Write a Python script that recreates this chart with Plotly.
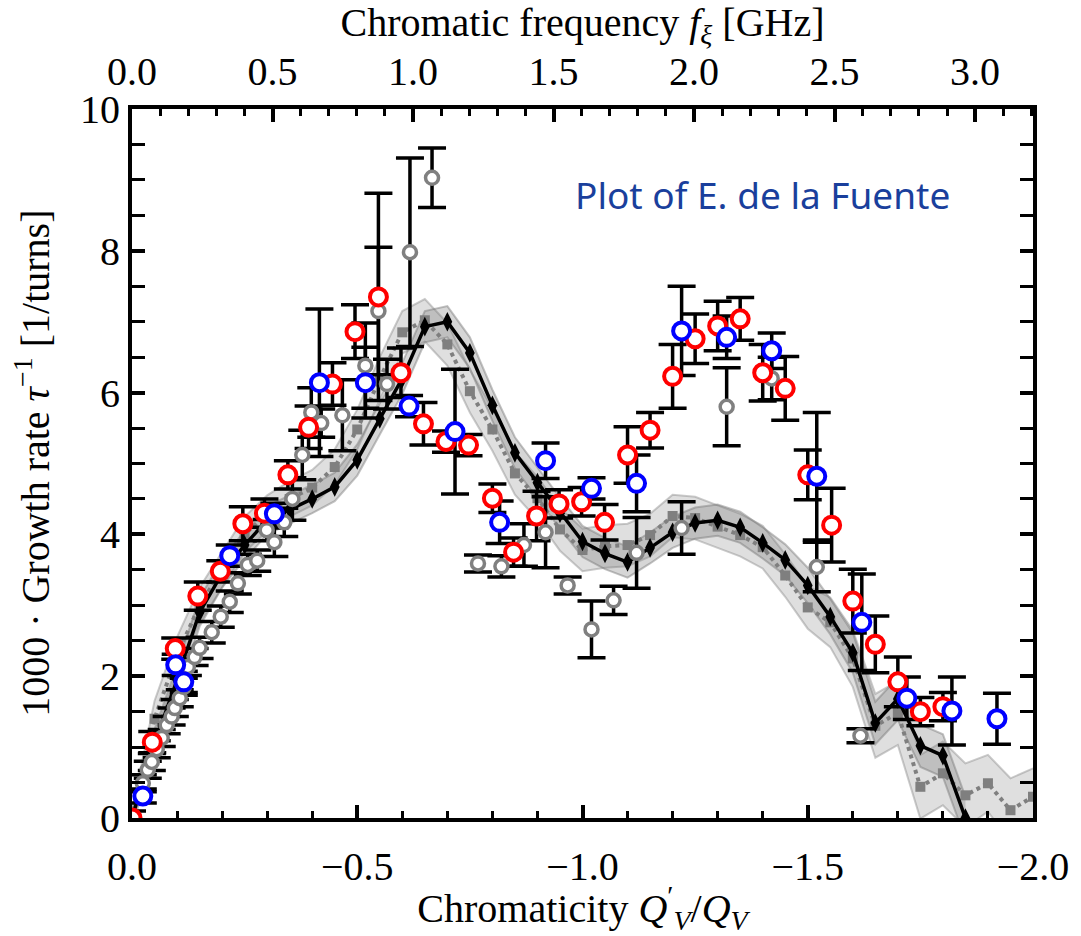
import plotly.graph_objects as go

# ---------------- data ----------------
red_x = [0.0, -0.045, -0.096, -0.146, -0.196, -0.246, -0.294, -0.346, -0.392, -0.445,
         -0.495, -0.547, -0.597, -0.647, -0.697, -0.747, -0.800, -0.847, -0.898, -0.948,
         -0.998, -1.049, -1.100, -1.150, -1.200, -1.250, -1.300, -1.350, -1.400, -1.450,
         -1.500, -1.553, -1.600, -1.650, -1.700, -1.750, -1.800]
red_y = [0.0, 1.07, 2.39, 3.13, 3.48, 4.15, 4.30, 4.84, 5.51, 6.12,
         6.86, 7.35, 6.28, 5.56, 5.31, 5.26, 4.51, 3.75, 4.26, 4.43,
         4.46, 4.17, 5.12, 5.47, 6.23, 6.76, 6.94, 7.04, 6.28, 6.06,
         4.84, 4.13, 3.06, 2.45, 1.92, 1.50, 1.57]
red_err = [0.10, 0.15, 0.15, 0.20, 0.15, 0.24, 0.20, 0.20, 0.30, 0.30,
           0.38, 1.46, 0.35, 0.30, 0.15, 0.15, 0.20, 0.20, 0.35, 0.20,
           0.20, 0.25, 0.40, 0.25, 0.45, 0.35, 0.35, 0.30, 0.40, 0.45,
           0.35, 0.52, 0.45, 0.40, 0.35, 0.20, 0.20]

blue_x = [-0.024, -0.097, -0.115, -0.217, -0.316, -0.416, -0.518, -0.615, -0.717, -0.816,
          -0.918, -1.020, -1.120, -1.220, -1.320, -1.420, -1.520, -1.620, -1.720, -1.820, -1.920]
blue_y = [0.31, 2.16, 1.92, 3.70, 4.29, 6.14, 6.14, 5.81, 5.45, 4.17,
          5.04, 4.65, 4.72, 6.87, 6.78, 6.59, 4.82, 2.76, 1.69, 1.51, 1.40]
blue_err = [0.10, 0.15, 0.15, 0.15, 0.15, 1.04, 0.50, 0.15, 0.88, 0.30,
            0.25, 0.15, 0.40, 0.63, 0.30, 0.25, 0.90, 0.68, 0.30, 0.48, 0.36]

gray_x = [-0.024, -0.035, -0.044, -0.055, -0.066, -0.077, -0.088, -0.095, -0.106, -0.115,
          -0.124, -0.139, -0.150, -0.177, -0.197, -0.217, -0.235, -0.257, -0.278, -0.299,
          -0.316, -0.338, -0.356, -0.378, -0.398, -0.420, -0.467, -0.518, -0.547, -0.566,
          -0.617, -0.666, -0.768, -0.820, -0.870, -0.918, -0.967, -1.020, -1.069, -1.120,
          -1.220, -1.320, -1.420, -1.520, -1.617]
gray_y = [0.49, 0.68, 0.79, 0.97, 1.13, 1.31, 1.43, 1.55, 1.69, 1.85,
          2.13, 2.27, 2.40, 2.62, 2.84, 3.05, 3.31, 3.57, 3.63, 4.06,
          3.89, 4.17, 4.50, 5.12, 5.72, 5.57, 5.68, 6.38, 7.15, 6.12,
          7.98, 9.03, 3.59, 3.55, 3.85, 4.03, 3.28, 2.66, 3.07, 3.74,
          4.09, 5.80, 6.20, 3.54, 1.16]
gray_err = [0.12, 0.12, 0.12, 0.12, 0.12, 0.12, 0.12, 0.12, 0.12, 0.12,
            0.12, 0.12, 0.15, 0.15, 0.15, 0.15, 0.15, 0.15, 0.15, 0.15,
            0.20, 0.20, 0.30, 0.35, 0.35, 0.20, 0.50, 0.60, 0.90, 0.35,
            1.33, 0.42, 0.12, 0.15, 0.30, 0.50, 0.12, 0.40, 0.20, 0.50,
            0.37, 0.55, 0.30, 0.35, 0.10]

sim_x = [0.00, -0.05, -0.10, -0.15, -0.20, -0.25, -0.30, -0.35, -0.40, -0.45,
         -0.50, -0.55, -0.60, -0.65, -0.70, -0.75, -0.80, -0.85, -0.90, -0.95,
         -1.00, -1.05, -1.10, -1.15, -1.20, -1.25, -1.30, -1.35, -1.40, -1.45,
         -1.50, -1.55, -1.60, -1.65, -1.70, -1.75, -1.80, -1.85]
sim_y = [0.00, 1.05, 1.95, 2.90, 3.45, 3.85, 4.20, 4.35, 4.50, 4.67,
         5.05, 5.63, 6.20, 6.93, 7.00, 6.56, 5.82, 5.15, 4.73, 4.30,
         3.90, 3.73, 3.61, 3.81, 4.03, 4.16, 4.20, 4.10, 3.88, 3.64,
         3.28, 2.84, 2.33, 1.34, 1.68, 1.02, 0.88, 0.00]
sim_band = [0.10, 0.20, 0.20, 0.20, 0.20, 0.20, 0.20, 0.20, 0.20, 0.20,
            0.22, 0.22, 0.22, 0.22, 0.22, 0.22, 0.22, 0.22, 0.22, 0.22,
            0.22, 0.22, 0.22, 0.22, 0.22, 0.22, 0.22, 0.22, 0.22, 0.22,
            0.25, 0.25, 0.28, 0.30, 0.30, 0.30, 0.30, 0.30]

sim2_x = [0.00, -0.05, -0.10, -0.15, -0.20, -0.25, -0.30, -0.35, -0.40, -0.45,
          -0.50, -0.55, -0.60, -0.65, -0.70, -0.75, -0.80, -0.85, -0.90, -0.95,
          -1.00, -1.05, -1.10, -1.15, -1.20, -1.25, -1.30, -1.35, -1.40, -1.45,
          -1.50, -1.55, -1.60, -1.65, -1.70, -1.75, -1.80, -1.85, -1.90, -1.95, -2.00]
sim2_y = [0.00, 1.40, 2.30, 3.00, 3.50, 4.00, 4.30, 4.50, 4.66, 4.95,
          5.48, 6.20, 6.85, 7.02, 6.68, 6.02, 5.48, 4.86, 4.51, 4.07,
          3.78, 3.83, 3.85, 3.99, 4.26, 4.23, 4.11, 3.99, 3.82, 3.42,
          2.97, 2.76, 2.25, 1.30, 1.48, 0.44, 0.63, 0.32, 0.49, 0.11, 0.30]
sim2_band = [0.10, 0.25, 0.25, 0.25, 0.25, 0.25, 0.25, 0.25, 0.25, 0.25,
             0.28, 0.30, 0.30, 0.30, 0.30, 0.30, 0.30, 0.30, 0.30, 0.30,
             0.30, 0.30, 0.30, 0.30, 0.30, 0.30, 0.30, 0.30, 0.30, 0.30,
             0.30, 0.35, 0.40, 0.45, 0.45, 0.45, 0.45, 0.45, 0.40, 0.45, 0.40]

top_ticks = [0.0, 0.5, 1.0, 1.5, 2.0, 2.5, 3.0]
top_labels = ["0.0", "0.5", "1.0", "1.5", "2.0", "2.5", "3.0"]
bot_ticks = [0.0, -0.5, -1.0, -1.5, -2.0]
bot_labels = ["0.0", "\u22120.5", "\u22121.0", "\u22121.5", "\u22122.0"]
y_ticks = [0, 2, 4, 6, 8, 10]

SERIF = "Liberation Serif, Times New Roman, serif"
FS = 40

fig = go.Figure()

# ---------- bands ----------
def band(xs, ys, hw, fillc, linec):
    up = [y + h for y, h in zip(ys, hw)]
    lo = [y - h for y, h in zip(ys, hw)]
    fig.add_trace(go.Scatter(x=xs, y=up, mode="lines",
                             line=dict(color=linec, width=2), hoverinfo="skip"))
    fig.add_trace(go.Scatter(x=xs, y=lo, mode="lines", fill="tonexty",
                             fillcolor=fillc, line=dict(color=linec, width=2),
                             hoverinfo="skip"))

band(sim2_x, sim2_y, sim2_band, "rgba(140,140,140,0.28)", "rgba(140,140,140,0.45)")
band(sim_x, sim_y, sim_band, "rgba(120,120,120,0.30)", "rgba(120,120,120,0.45)")

# ---------- simulation lines ----------
fig.add_trace(go.Scatter(x=sim2_x, y=sim2_y, mode="lines+markers",
                         line=dict(color="#7f7f7f", width=4, dash="dot"),
                         marker=dict(symbol="square", size=10, color="#7f7f7f")))
fig.add_trace(go.Scatter(x=sim_x, y=sim_y, mode="lines+markers",
                         line=dict(color="black", width=3.5),
                         marker=dict(symbol="diamond-tall", size=14, color="black")))

# ---------- error bars ----------
for xs, ys, es in [(gray_x, gray_y, gray_err), (red_x, red_y, red_err), (blue_x, blue_y, blue_err)]:
    fig.add_trace(go.Scatter(x=xs, y=ys, mode="markers",
                             marker=dict(size=1, color="rgba(0,0,0,0)"),
                             error_y=dict(type="data", array=es, visible=True,
                                          color="black", thickness=3.5, width=14)))

# ---------- data markers ----------
fig.add_trace(go.Scatter(x=gray_x, y=gray_y, mode="markers",
                         marker=dict(symbol="circle", size=13, color="white",
                                     line=dict(color="#808080", width=3.5))))
fig.add_trace(go.Scatter(x=red_x, y=red_y, mode="markers",
                         marker=dict(symbol="circle", size=17, color="white",
                                     line=dict(color="#ff0000", width=4))))
fig.add_trace(go.Scatter(x=blue_x, y=blue_y, mode="markers",
                         marker=dict(symbol="circle", size=17, color="white",
                                     line=dict(color="#0000ff", width=4))))

# dummy trace for top axis
fig.add_trace(go.Scatter(x=[0, 3.2], y=[-5, -5], xaxis="x2", mode="markers",
                         marker=dict(size=1, color="rgba(0,0,0,0)"), hoverinfo="skip"))

axis_common = dict(showline=True, linewidth=4, linecolor="black", ticks="inside",
                   tickcolor="black", tickwidth=3.5, ticklen=13, showgrid=False,
                   zeroline=False, tickfont=dict(family=SERIF, size=FS, color="black"))

fig.update_layout(
    width=1081, height=936,
    margin=dict(l=132, r=45, t=109, b=118),
    plot_bgcolor="white", paper_bgcolor="white",
    showlegend=False,
    font=dict(family=SERIF, size=FS, color="black"),
    xaxis=dict(range=[0, -2.0], tickvals=bot_ticks, ticktext=bot_labels, mirror=False,
               ticklabelstandoff=10,
               minor=dict(dtick=0.1, tick0=0, ticks="inside", ticklen=7, tickwidth=3,
                          tickcolor="black"),
               title=dict(text="Chromaticity <i>Q</i><sup>\u2032</sup><sub><i>V</i></sub>/<i>Q</i><sub><i>V</i></sub>",
                          font=dict(family=SERIF, size=FS), standoff=0),
               **axis_common),
    xaxis2=dict(range=[0, 3.206], overlaying="x", side="top", anchor="y",
                ticklabelstandoff=4,
                tickvals=top_ticks, ticktext=top_labels,
                minor=dict(dtick=0.1, tick0=0, ticks="inside", ticklen=7, tickwidth=3,
                           tickcolor="black"),
                title=dict(text="Chromatic frequency <i>f</i><sub><i>\u03be</i></sub> [GHz]",
                           font=dict(family=SERIF, size=FS), standoff=0),
                **axis_common),
    yaxis=dict(range=[0, 10], tickvals=y_ticks, mirror="allticks",
               minor=dict(dtick=0.5, tick0=0, ticks="inside", ticklen=7, tickwidth=3,
                          tickcolor="black"),
               **axis_common),
    annotations=[
        dict(text="1000 \u00b7 Growth rate <i>\u03c4</i><sup>\u22121</sup> [1/turns]",
             x=-0.1106, y=0.5, xref="paper", yref="paper", textangle=-90,
             showarrow=False, xanchor="center", yanchor="middle",
             font=dict(family=SERIF, size=FS, color="black")),
        dict(text="Plot of E. de la Fuente", x=0.70, y=0.88,
             xref="paper", yref="paper", showarrow=False,
             xanchor="center", yanchor="middle",
             font=dict(family="Noto Sans", size=37, color="#1a3f9c")),
    ],
)

fig.write_html("out.html")
